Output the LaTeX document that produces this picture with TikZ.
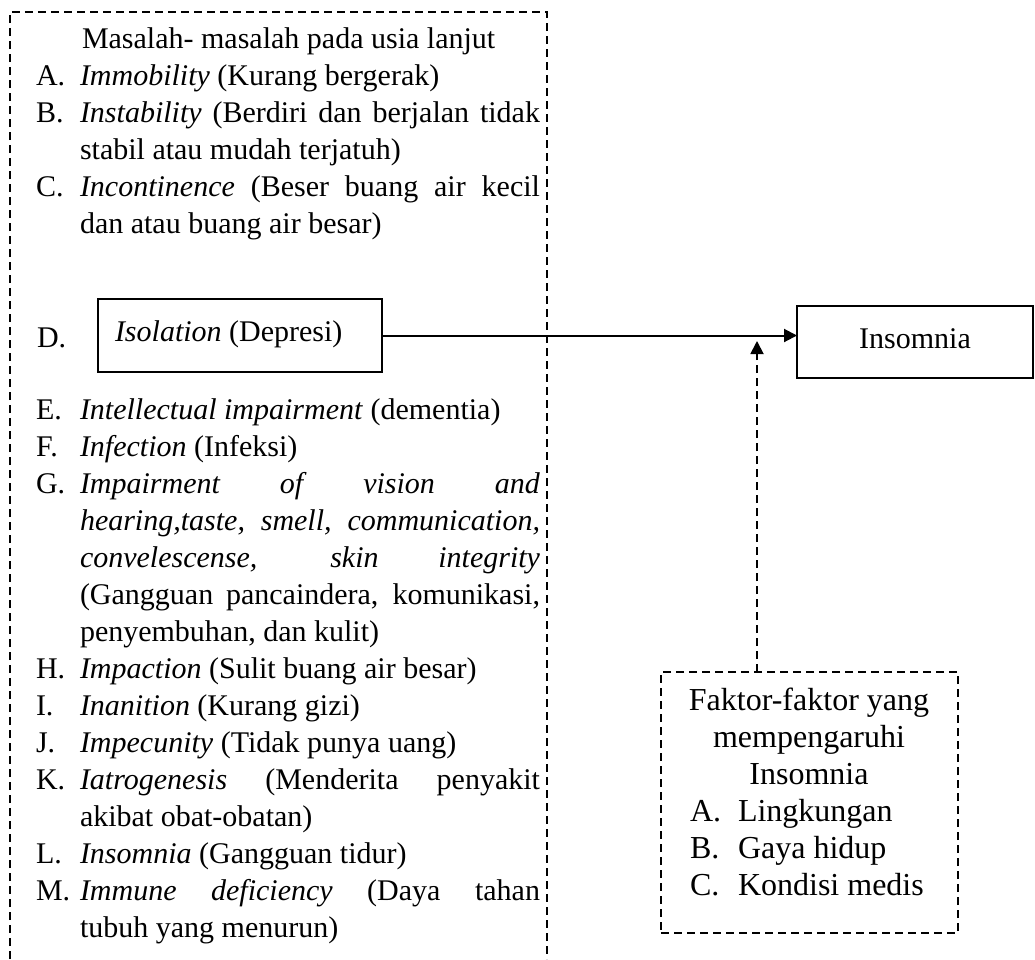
\documentclass[tikz,border=0pt]{standalone}
\usepackage{fontspec}
\setmainfont{Liberation Serif}
\usetikzlibrary{arrows.meta}
\newcommand\jl[1]{\makebox[460pt][s]{#1}}
\begin{document}
\begin{tikzpicture}[x=1pt,y=-1pt,
  txt/.style={anchor=base west,inner sep=0pt,outer sep=0pt,font=\fontsize{30}{36}\selectfont},
  ftxt/.style={anchor=base west,inner sep=0pt,outer sep=0pt,font=\fontsize{32}{37}\selectfont},
  ctxt/.style={anchor=base,inner sep=0pt,outer sep=0pt,font=\fontsize{30}{36}\selectfont},
  fctxt/.style={anchor=base,inner sep=0pt,outer sep=0pt,font=\fontsize{32}{37}\selectfont},
  dashline/.style={line width=1.8pt,dash pattern=on 8pt off 5pt},
  solidbox/.style={draw,line width=2pt,inner sep=0pt,outer sep=0pt},
  dashbox/.style={draw,line width=1.8pt,dash pattern=on 8pt off 5pt,inner sep=0pt,outer sep=0pt},
  arr/.style={line width=2pt,-{Triangle[length=13pt,width=13pt]}},
  darr/.style={line width=1.8pt,dash pattern=on 8pt off 5pt,-{Triangle[length=13pt,width=13pt]}},
]
\useasboundingbox (0,0) rectangle (1035,959);

% left container (open at the bottom of the page)
\draw[dashline] (10,959) -- (10,12) -- (547,12) -- (547,959);

\node[txt] (title) at (82,48) {Masalah- masalah pada usia lanjut};
\node[txt] (la) at (36,85) {A.};
\node[txt] (ta) at (80,85) {\textit{Immobility} (Kurang bergerak)};
\node[txt] (lb) at (36,122) {B.};
\node[txt] (tb1) at (80,122) {\jl{\textit{Instability} (Berdiri dan berjalan tidak}};
\node[txt] (tb2) at (80,159) {stabil atau mudah terjatuh)};
\node[txt] (lc) at (36,196) {C.};
\node[txt] (tc1) at (80,196) {\jl{\textit{Incontinence} (Beser buang air kecil}};
\node[txt] (tc2) at (80,233) {dan atau buang air besar)};

\node[txt] (ld) at (37,347) {D.};
\node[solidbox,minimum width=284pt,minimum height=73pt] (iso) at (240,335.5) {};
\node[txt] (td) at (115,341) {\textit{Isolation} (Depresi)};

\node[txt] (le) at (36,419) {E.};
\node[txt] (te) at (80,419) {\textit{Intellectual impairment} (dementia)};
\node[txt] (lf) at (36,456) {F.};
\node[txt] (tf) at (80,456) {\textit{Infection} (Infeksi)};
\node[txt] (lg) at (36,493) {G.};
\node[txt] (tg1) at (80,493) {\jl{\textit{Impairment of vision and}}};
\node[txt] (tg2) at (80,530) {\jl{\textit{hearing,taste, smell, communication,}}};
\node[txt] (tg3) at (80,567) {\jl{\textit{convelescense, skin integrity}}};
\node[txt] (tg4) at (80,604) {\jl{(Gangguan pancaindera, komunikasi,}};
\node[txt] (tg5) at (80,641) {penyembuhan, dan kulit)};
\node[txt] (lh) at (36,678) {H.};
\node[txt] (th) at (80,678) {\textit{Impaction} (Sulit buang air besar)};
\node[txt] (li) at (36,715) {I.};
\node[txt] (ti) at (80,715) {\textit{Inanition} (Kurang gizi)};
\node[txt] (lj) at (36,752) {J.};
\node[txt] (tj) at (80,752) {\textit{Impecunity} (Tidak punya uang)};
\node[txt] (lk) at (36,789) {K.};
\node[txt] (tk1) at (80,789) {\jl{\textit{Iatrogenesis} (Menderita penyakit}};
\node[txt] (tk2) at (80,826) {akibat obat-obatan)};
\node[txt] (ll) at (36,863) {L.};
\node[txt] (tl) at (80,863) {\textit{Insomnia} (Gangguan tidur)};
\node[txt] (lm) at (36,900) {M.};
\node[txt] (tm1) at (80,900) {\jl{\textit{Immune deficiency} (Daya tahan}};
\node[txt] (tm2) at (80,937) {tubuh yang menurun)};

% Insomnia box
\node[solidbox,minimum width=236pt,minimum height=72pt] (ins) at (915,342) {};
\node[ctxt] (tins) at (915,348) {Insomnia};

% factors box
\node[dashbox,minimum width=297pt,minimum height=261pt] (fak) at (809.5,802.5) {};
\node[fctxt] (f1) at (809,710) {Faktor-faktor yang};
\node[fctxt] (f2) at (809,747) {mempengaruhi};
\node[fctxt] (f3) at (809,784) {Insomnia};
\node[ftxt] (fa) at (690,821) {A.};
\node[ftxt] (fat) at (738,821) {Lingkungan};
\node[ftxt] (fb) at (690,858) {B.};
\node[ftxt] (fbt) at (738,858) {Gaya hidup};
\node[ftxt] (fc) at (690,895) {C.};
\node[ftxt] (fct) at (738,895) {Kondisi medis};

% connectors
\draw[arr] (iso.east) -- (iso.east -| ins.west);
\coordinate (tip) at (757,341);
\draw[darr] (tip |- fak.north) -- (tip);
\end{tikzpicture}
\end{document}
